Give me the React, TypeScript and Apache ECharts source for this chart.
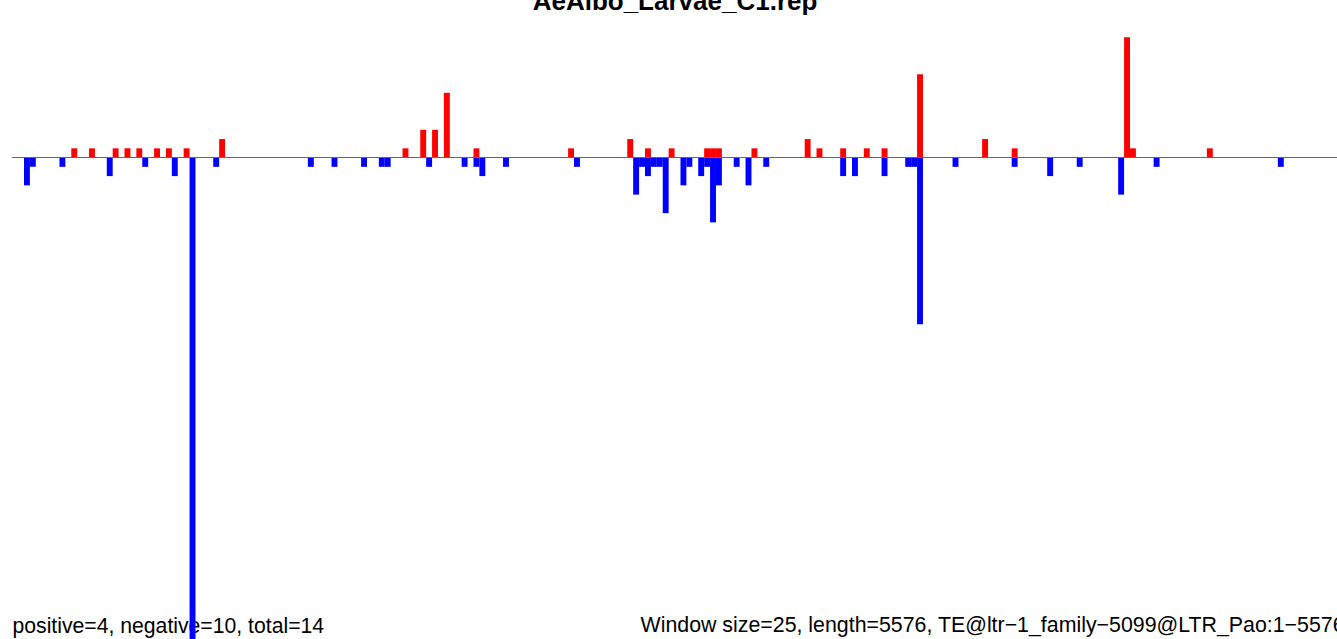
import React, { useEffect, useRef } from "react";
import * as echarts from "echarts";

// Window size 25 over a sequence of length 5576 -> 224 windows
const WINDOW_SIZE = 25;
const SEQ_LENGTH = 5576;
const WINDOW_COUNT = Math.ceil(SEQ_LENGTH / WINDOW_SIZE);

const titleText = "AeAlbo_Larvae_C1.rep";
const leftNote = "positive=4, negative=10, total=14";
const rightNote = "Window size=25, length=5576, TE@ltr\u22121_family\u22125099@LTR_Pao:1\u22125576";

// positive (sense) counts per window
const posWindows = [10, 13, 17, 19, 21, 24, 26, 29, 35, 66, 69, 71, 73, 78, 94, 104, 107, 111, 117, 118, 119, 125, 134, 136, 140, 144, 147, 153, 164, 169, 188, 189, 202];
const posCounts = [1, 1, 1, 1, 1, 1, 1, 1, 2, 1, 3, 3, 7, 1, 1, 2, 1, 1, 1, 1, 1, 1, 2, 1, 1, 1, 1, 9, 2, 1, 13, 1, 1];

// negative (antisense) counts per window
const negWindows = [2, 3, 8, 16, 22, 27, 30, 34, 50, 54, 59, 62, 63, 70, 76, 78, 79, 83, 95, 105, 106, 107, 108, 109, 110, 113, 114, 116, 117, 118, 119, 122, 124, 127, 140, 142, 147, 151, 152, 153, 159, 169, 175, 180, 187, 193, 214];
const negCounts = [-3, -1, -1, -2, -1, -2, -52, -1, -1, -1, -1, -1, -1, -1, -1, -1, -2, -1, -1, -4, -1, -2, -1, -1, -6, -3, -1, -2, -1, -7, -3, -1, -3, -1, -2, -2, -2, -1, -1, -18, -1, -1, -2, -1, -4, -1, -1];

const categories: string[] = [];
for (let i = 0; i < WINDOW_COUNT; i++) categories.push(String(i * WINDOW_SIZE + 1));

function fill(windows: number[], counts: number[]) {
  const arr: (number | null)[] = new Array(WINDOW_COUNT).fill(null);
  windows.forEach((w, k) => {
    arr[w] = counts[k];
  });
  return arr;
}

const FONT = "'Liberation Sans', Arial, Helvetica, sans-serif";

export default function App() {
  const ref = useRef<HTMLDivElement>(null);
  useEffect(() => {
    if (!ref.current) return;
    const chart = echarts.init(ref.current, undefined, { renderer: "svg" });
    const slot = 5.93;
    chart.setOption({
      animation: false,
      backgroundColor: "#ffffff",
      grid: { left: 12.14, top: 0.2, width: slot * WINDOW_COUNT, height: 69 * 9.3, containLabel: false },
      xAxis: {
        type: "category",
        data: categories,
        z: 5,
        axisLine: { show: true, onZero: true, lineStyle: { color: "#666666", width: 1 } },
        axisTick: { show: false },
        axisLabel: { show: false },
        splitLine: { show: false },
      },
      yAxis: {
        type: "value",
        min: -52,
        max: 17,
        show: false,
        splitLine: { show: false },
      },
      series: [
        {
          name: "positive",
          type: "bar",
          data: fill(posWindows, posCounts),
          barGap: "-100%",
          barCategoryGap: 0,
          itemStyle: { color: "#ff0000" },
        },
        {
          name: "negative",
          type: "bar",
          data: fill(negWindows, negCounts),
          barGap: "-100%",
          barCategoryGap: 0,
          itemStyle: { color: "#0000ff" },
        },
      ],
      graphic: [
        {
          type: "text",
          x: 675,
          y: 1,
          style: {
            text: titleText,
            font: `bold 26px ${FONT}`,
            fill: "#000",
            textAlign: "center",
            textVerticalAlign: "middle",
          },
        },
        {
          type: "text",
          x: 12.5,
          y: 625,
          style: {
            text: leftNote,
            font: `21.2px ${FONT}`,
            fill: "#000",
            textAlign: "left",
            textVerticalAlign: "middle",
          },
        },
        {
          type: "text",
          x: 640.5,
          y: 625,
          style: {
            text: rightNote,
            font: `21.35px ${FONT}`,
            fill: "#000",
            textAlign: "left",
            textVerticalAlign: "middle",
          },
        },
      ],
    });
    return () => chart.dispose();
  }, []);
  return (
    <div
      ref={ref}
      style={{ position: "absolute", left: 0, top: 0, width: 1337, height: 639, overflow: "hidden" }}
    />
  );
}
